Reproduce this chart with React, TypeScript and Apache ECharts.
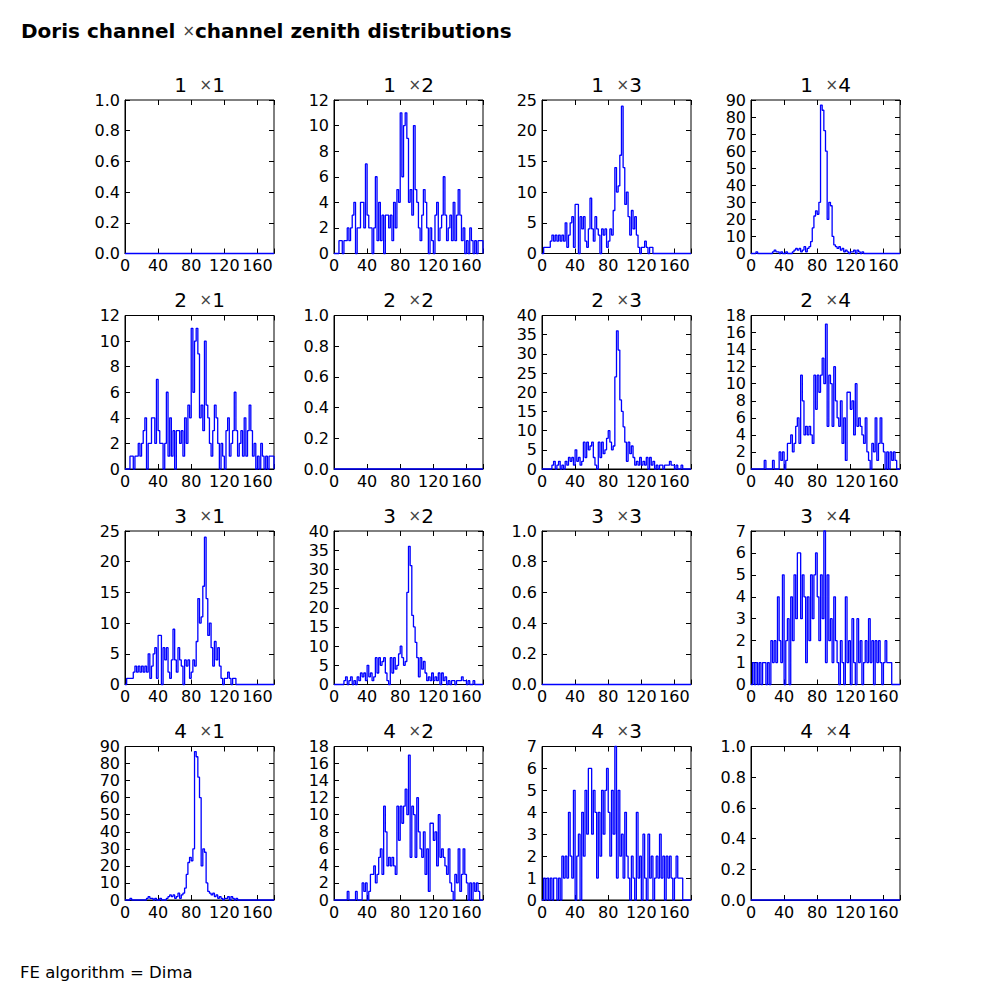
import React, { useEffect, useRef } from "react";
import * as echarts from "echarts";

// ---------------- data ----------------
const X_MIN = 0;
const X_MAX = 180;
const X_TICK_STEP = 40;
const CHANNELS = [1, 2, 3, 4];

const MAIN_TITLE_A = "Doris channel ";
const MAIN_TITLE_TIMES = "×";
const MAIN_TITLE_B = "channel zenith distributions";
const FOOTER = "FE algorithm = Dima";

// zenith histograms, 2-degree bins from 0 to 180
const COUNTS_1_2 = [
  0, 0, 0, 1, 1, 0, 1, 1, 2, 1,
  2, 3, 4, 0, 2, 2, 4, 4, 2, 7,
  3, 2, 2, 0, 2, 6, 1, 4, 1, 3,
  0, 3, 3, 2, 3, 1, 4, 2, 5, 4,
  11, 6, 10, 11, 9, 4, 5, 3, 10, 5,
  4, 2, 1, 3, 5, 4, 2, 0, 2, 1,
  0, 3, 4, 1, 2, 3, 6, 3, 1, 2,
  3, 1, 4, 1, 3, 5, 3, 1, 2, 0,
  1, 0, 2, 1, 0, 1, 0, 1, 1, 1,
];
const COUNTS_1_3 = [
  0, 1, 1, 1, 1, 2, 3, 2, 3, 2,
  3, 2, 3, 2, 5, 1, 3, 5, 6, 1,
  8, 8, 0, 6, 4, 6, 2, 1, 4, 9,
  4, 2, 6, 4, 3, 0, 4, 3, 4, 1,
  2, 4, 3, 7, 14, 10, 11, 16, 24, 14,
  8, 10, 6, 3, 7, 4, 6, 3, 1, 0,
  1, 1, 2, 1, 0, 1, 1, 0, 0, 0,
  0, 0, 0, 0, 0, 0, 0, 0, 0, 0,
  0, 0, 0, 0, 0, 0, 0, 0, 0, 0,
];
const COUNTS_1_4 = [
  0, 0, 0, 1, 0, 0, 0, 0, 0, 0,
  0, 0, 0, 1, 2, 1, 1, 0, 1, 0,
  0, 1, 0, 0, 0, 1, 2, 3, 2, 3,
  1, 2, 4, 1, 3, 4, 7, 15, 22, 25,
  23, 30, 87, 84, 72, 60, 20, 30, 28, 10,
  5, 4, 3, 4, 2, 3, 1, 2, 1, 0,
  1, 1, 2, 0, 2, 1, 0, 1, 0, 0,
  0, 0, 0, 0, 0, 0, 0, 0, 0, 0,
  0, 0, 0, 0, 0, 0, 0, 0, 0, 0,
];
const COUNTS_2_3 = [
  0, 0, 0, 0, 0, 0, 1, 2, 0, 1,
  2, 0, 1, 0, 2, 1, 3, 2, 3, 1,
  5, 2, 3, 1, 2, 7, 3, 7, 5, 6,
  7, 3, 1, 0, 7, 3, 7, 4, 5, 8,
  10, 7, 5, 6, 24, 36, 31, 18, 15, 11,
  7, 2, 7, 4, 6, 3, 1, 2, 1, 3,
  1, 2, 1, 3, 0, 3, 1, 2, 0, 1,
  0, 1, 1, 0, 1, 1, 1, 2, 1, 1,
  0, 1, 0, 0, 1, 0, 0, 0, 0, 0,
];
const COUNTS_2_4 = [
  0, 0, 0, 0, 0, 0, 0, 0, 1, 0,
  0, 0, 0, 1, 0, 0, 0, 2, 1, 2,
  0, 1, 3, 3, 4, 2, 3, 5, 6, 3,
  11, 8, 4, 5, 4, 5, 4, 3, 11, 7,
  11, 9, 11, 13, 10, 17, 5, 11, 10, 5,
  12, 8, 6, 5, 8, 3, 6, 1, 9, 9,
  7, 8, 4, 10, 5, 6, 5, 4, 3, 6,
  2, 1, 0, 3, 2, 6, 1, 3, 6, 3,
  2, 0, 2, 0, 2, 1, 2, 1, 0, 0,
];
const COUNTS_3_4 = [
  0, 1, 0, 1, 0, 1, 0, 1, 1, 0,
  1, 0, 2, 1, 2, 1, 4, 2, 1, 5,
  0, 2, 3, 0, 4, 2, 5, 3, 6, 6,
  3, 5, 4, 1, 4, 2, 5, 3, 5, 6,
  4, 2, 5, 3, 7, 1, 5, 2, 3, 1,
  4, 2, 1, 0, 2, 1, 0, 4, 1, 2,
  0, 3, 1, 0, 3, 1, 2, 0, 1, 2,
  1, 3, 1, 2, 0, 2, 1, 2, 1, 0,
  1, 2, 1, 1, 1, 0, 0, 0, 0, 0,
];
// a channel with itself: one empty bin over the whole range
const COUNTS_SAME = [0];

const PAIRS = [[1, 2], [1, 3], [1, 4], [2, 3], [2, 4], [3, 4]];
const PAIR_COUNTS = [COUNTS_1_2, COUNTS_1_3, COUNTS_1_4, COUNTS_2_3, COUNTS_2_4, COUNTS_3_4];
const PAIR_Y_MAX = [12, 25, 90, 40, 18, 7];
const PAIR_Y_STEP = [2, 5, 10, 5, 2, 1];
const SAME_Y_MAX = 1;
const SAME_Y_STEP = 0.2;

// ---------------- layout ----------------
const GRID_LEFTS = [125, 334, 542, 751];
const GRID_TOPS = [100, 315.5, 531, 746.5];
const GRID_W = 149;
const GRID_H = 153.5;
const FONT = "'DejaVu Sans', 'Liberation Sans', sans-serif";
const LINE_COLOR = "#0000ff";
const TICK_FONT = 16;

function lookup(r: number, c: number) {
  if (r === c) {
    return { counts: COUNTS_SAME, yMax: SAME_Y_MAX, yStep: SAME_Y_STEP, decimals: 1 };
  }
  const a = Math.min(r, c);
  const b = Math.max(r, c);
  const idx = PAIRS.findIndex((p) => p[0] === a && p[1] === b);
  return { counts: PAIR_COUNTS[idx], yMax: PAIR_Y_MAX[idx], yStep: PAIR_Y_STEP[idx], decimals: 0 };
}

function stepPoints(counts: number[]) {
  const w = (X_MAX - X_MIN) / counts.length;
  const pts: number[][] = [[X_MIN, 0]];
  counts.forEach((v, i) => pts.push([X_MIN + i * w, v]));
  pts.push([X_MAX, counts[counts.length - 1]]);
  pts.push([X_MAX, 0]);
  return pts;
}

function buildOption() {
  const grids: any[] = [];
  const xAxes: any[] = [];
  const yAxes: any[] = [];
  const series: any[] = [];
  const graphics: any[] = [];
  const tickStyle = { color: "#000", width: 1 };

  CHANNELS.forEach((r, ri) => {
    CHANNELS.forEach((c, ci) => {
      const k = ri * 4 + ci;
      const { counts, yMax, yStep, decimals } = lookup(r, c);
      const left = GRID_LEFTS[ci];
      const top = GRID_TOPS[ri];
      grids.push({
        left, top, width: GRID_W, height: GRID_H,
        show: true, borderColor: "#000", borderWidth: 1, backgroundColor: "#fff",
      });
      xAxes.push({
        type: "value", gridIndex: k, min: X_MIN, max: X_MAX, interval: X_TICK_STEP,
        position: "bottom",
        axisLine: { show: true, onZero: false, lineStyle: tickStyle },
        axisTick: { show: true, inside: true, length: 5, lineStyle: tickStyle },
        axisLabel: {
          color: "#000", fontFamily: FONT, fontSize: TICK_FONT, margin: 4,
          formatter: (v: number) => (v >= X_MAX ? "" : String(v)),
        },
        splitLine: { show: false },
      });
      xAxes.push({
        type: "value", gridIndex: k, min: X_MIN, max: X_MAX, interval: X_TICK_STEP,
        position: "top",
        axisLine: { show: false, onZero: false },
        axisTick: { show: true, inside: true, length: 5, lineStyle: tickStyle },
        axisLabel: { show: false },
        splitLine: { show: false },
      });
      yAxes.push({
        type: "value", gridIndex: k, min: 0, max: yMax, interval: yStep,
        position: "left",
        axisLine: { show: true, onZero: false, lineStyle: tickStyle },
        axisTick: { show: true, inside: true, length: 5, lineStyle: tickStyle },
        axisLabel: {
          color: "#000", fontFamily: FONT, fontSize: TICK_FONT, margin: 5,
          formatter: (v: number) => v.toFixed(decimals),
        },
        splitLine: { show: false },
      });
      yAxes.push({
        type: "value", gridIndex: k, min: 0, max: yMax, interval: yStep,
        position: "right",
        axisLine: { show: false, onZero: false },
        axisTick: { show: true, inside: true, length: 5, lineStyle: tickStyle },
        axisLabel: { show: false },
        splitLine: { show: false },
      });
      series.push({
        type: "line", xAxisIndex: 2 * k, yAxisIndex: 2 * k,
        data: stepPoints(counts), step: "end",
        showSymbol: false, symbol: "none", clip: false, silent: true, z: 5,
        lineStyle: { color: LINE_COLOR, width: 1.3 },
      });
      graphics.push({
        type: "text", x: left + GRID_W / 2, y: top - 15.5,
        style: {
          text: `{n|${r}  }{m|×}{n|${c}}`,
          align: "center", verticalAlign: "middle",
          rich: {
            n: { fontFamily: FONT, fontSize: 20, fill: "#000", color: "#000" },
            m: { fontFamily: FONT, fontSize: 15, fill: "#444", color: "#444" },
          },
        },
      });
    });
  });

  graphics.push({
    type: "text", x: 21, y: 31,
    style: {
      text: `{b|${MAIN_TITLE_A}}{m|${MAIN_TITLE_TIMES}}{b|${MAIN_TITLE_B}}`,
      align: "left", verticalAlign: "middle",
      rich: {
        b: { fontFamily: FONT, fontSize: 20, fontWeight: "bold", fill: "#000", color: "#000" },
        m: { fontFamily: FONT, fontSize: 15, fill: "#444", color: "#444" },
      },
    },
  });
  graphics.push({
    type: "text", x: 20, y: 972,
    style: {
      text: FOOTER, align: "left", verticalAlign: "middle",
      font: `16.5px ${FONT}`, fill: "#000",
    },
  });

  return {
    animation: false,
    backgroundColor: "#fff",
    grid: grids,
    xAxis: xAxes,
    yAxis: yAxes,
    series,
    graphic: graphics,
  };
}

export default function App() {
  const ref = useRef<HTMLDivElement>(null);
  useEffect(() => {
    if (!ref.current) return;
    const chart = echarts.init(ref.current, undefined, { renderer: "svg" });
    chart.setOption(buildOption() as any);
    return () => chart.dispose();
  }, []);
  return (
    <div
      ref={ref}
      style={{ position: "absolute", left: 0, top: 0, width: 1000, height: 1000 }}
    />
  );
}
